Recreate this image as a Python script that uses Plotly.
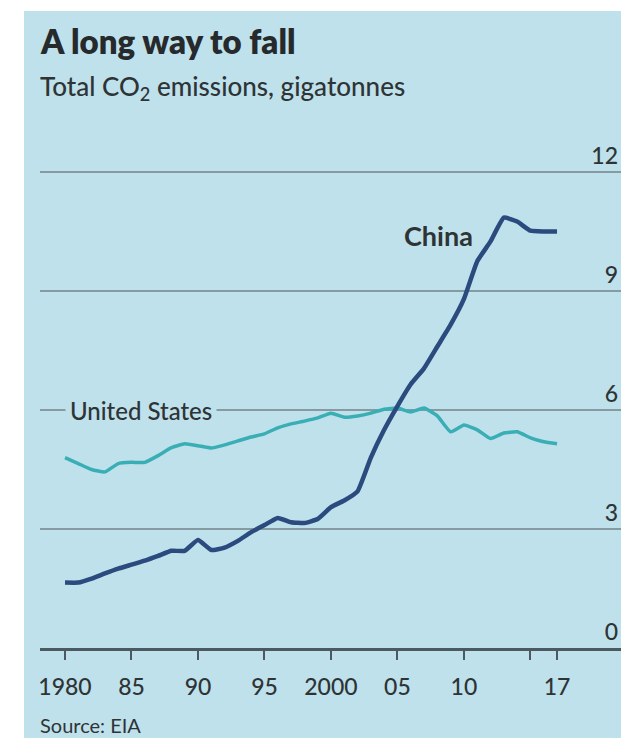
import plotly.graph_objects as go

years = list(range(1980, 2018))
china = [1.65, 1.65, 1.75, 1.88, 2.0, 2.1, 2.2, 2.32, 2.45, 2.45,
         2.72, 2.47, 2.53, 2.7, 2.92, 3.1, 3.28, 3.17, 3.15, 3.25,
         3.55, 3.72, 3.95, 4.8, 5.5, 6.1, 6.65, 7.05, 7.6, 8.15,
         8.8, 9.75, 10.25, 10.85, 10.75, 10.52, 10.5, 10.5]
usa = [4.8, 4.65, 4.5, 4.44, 4.65, 4.68, 4.68, 4.85, 5.05, 5.15,
       5.1, 5.04, 5.12, 5.22, 5.32, 5.4, 5.55, 5.65, 5.72, 5.8,
       5.92, 5.82, 5.85, 5.92, 6.02, 6.05, 5.95, 6.05, 5.85, 5.45,
       5.62, 5.5, 5.28, 5.42, 5.45, 5.3, 5.2, 5.15]
x_tickvals = [1980, 1985, 1990, 1995, 2000, 2005, 2010, 2017]
x_ticktext = ["1980", "85", "90", "95", "2000", "05", "10", "17"]
x_minor_ticks = [2015]
y_tickvals = [0, 3, 6, 9, 12]

BG = "#bfe1eb"
TXT = "#2e3436"
FONT = "Lato"

W, H = 621, 740
ML, MR, MT, MB = 40, 0, 110, 92
YTOP = (H - MB - MT) / ((H - MB - 172) / 12)

fig = go.Figure()
fig.add_trace(go.Scatter(x=years, y=usa, mode="lines", name="United States",
                         line=dict(color="#3aaeb5", width=3.5, shape="spline", smoothing=0.4)))
fig.add_trace(go.Scatter(x=years, y=china, mode="lines", name="China",
                         line=dict(color="#2b4a7e", width=4.5, shape="spline", smoothing=0.4)))

def px_x(p):
    return (p - ML) / (W - ML - MR)

def px_y(p):
    return 1 - (p - MT) / (H - MT - MB)

fig.update_layout(
    width=W, height=H,
    margin=dict(l=ML, r=MR, t=MT, b=MB),
    paper_bgcolor=BG, plot_bgcolor=BG,
    showlegend=False,
    font=dict(family=FONT, color=TXT),
    xaxis=dict(range=[1978.12, 2021.81], tickmode="array", tickvals=x_tickvals,
               ticktext=x_ticktext, ticks="outside", ticklen=9, tickwidth=2,
               tickcolor="#4a5a60", showgrid=False, zeroline=False,
               showline=True, linecolor="#4a5a60", linewidth=3,
               minor=dict(tickvals=x_minor_ticks, ticks="outside", ticklen=9,
                          tickwidth=2, tickcolor="#4a5a60", showgrid=False),
               tickfont=dict(size=23, color=TXT, family=FONT, weight=500),
               ticklabelstandoff=7),
    yaxis=dict(range=[0, YTOP], tickmode="array", tickvals=y_tickvals,
               side="right", ticklabelposition="inside top", ticks="",
               showgrid=True, gridcolor="#869aa1", gridwidth=1.5,
               zeroline=False, showline=False,
               tickfont=dict(size=23, color=TXT, family=FONT, weight=500)),
    shapes=[
        dict(type="rect", xref="paper", yref="paper", x0=px_x(-5), x1=px_x(24),
             y0=px_y(-5), y1=px_y(745), fillcolor="white", line=dict(width=0), layer="below"),
        dict(type="rect", xref="paper", yref="paper", x0=px_x(-5), x1=px_x(626),
             y0=px_y(-5), y1=px_y(11), fillcolor="white", line=dict(width=0), layer="below"),
        dict(type="rect", xref="paper", yref="paper", x0=px_x(-5), x1=px_x(626),
             y0=px_y(738), y1=px_y(745), fillcolor="white", line=dict(width=0), layer="above"),
    ],
    annotations=[
        dict(text="A long way to fall", xref="paper", yref="paper",
             x=px_x(38), y=px_y(41), xanchor="left", yanchor="middle",
             showarrow=False, font=dict(size=33, color="#262a2c", family=FONT, weight=800)),
        dict(text="Total CO<sub>2</sub> emissions, gigatonnes", xref="paper", yref="paper",
             x=px_x(38), y=px_y(88), xanchor="left", yanchor="middle",
             showarrow=False, font=dict(size=26, color=TXT, family=FONT, weight=500)),
        dict(text="Source: EIA", xref="paper", yref="paper",
             x=px_x(38), y=px_y(725), xanchor="left", yanchor="middle",
             showarrow=False, font=dict(size=20, color=TXT, family=FONT)),
        dict(text="United States", x=1985.7, y=6, xref="x", yref="y",
             xanchor="center", yanchor="middle", showarrow=False,
             bgcolor=BG, borderpad=4,
             font=dict(size=24, color=TXT, family=FONT, weight=500)),
        dict(text="China", x=2008.1, y=10.41, xref="x", yref="y",
             xanchor="center", yanchor="middle", showarrow=False,
             font=dict(size=27, color=TXT, family=FONT, weight=700)),
    ],
)

fig.write_html("out.html")
